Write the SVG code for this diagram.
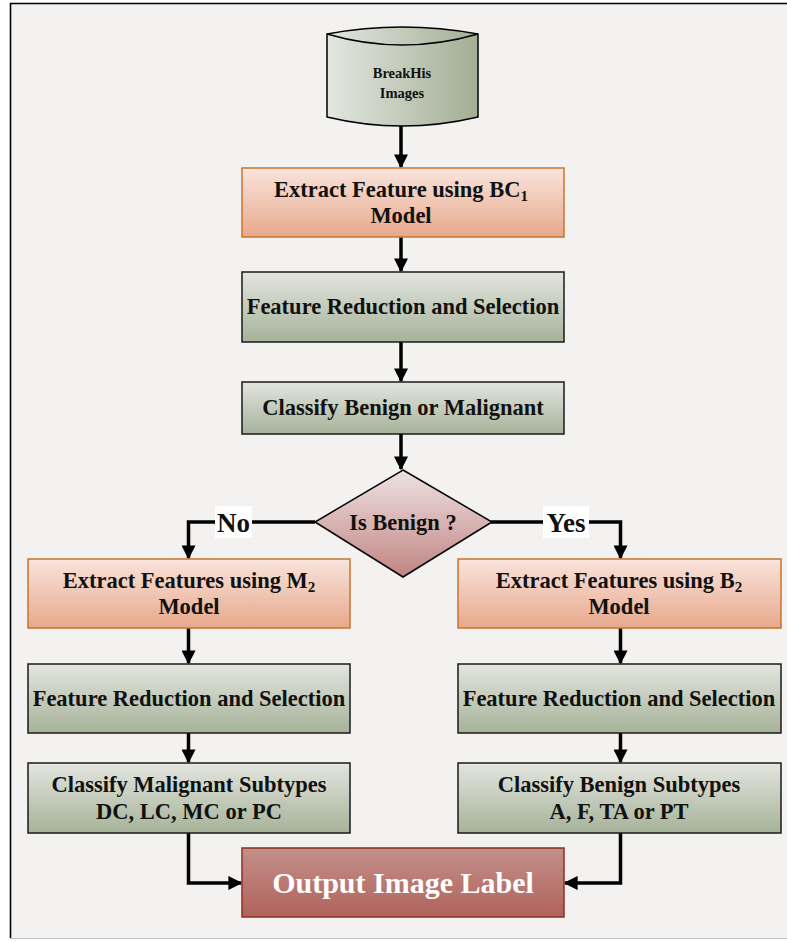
<svg xmlns="http://www.w3.org/2000/svg" width="787" height="941" viewBox="0 0 787 941">
  <defs>
    <linearGradient id="gOrange" x1="0" y1="0" x2="0" y2="1">
      <stop offset="0" stop-color="#f9e4dc"/>
      <stop offset="1" stop-color="#e7a88b"/>
    </linearGradient>
    <linearGradient id="gGreen" x1="0" y1="0" x2="0" y2="1">
      <stop offset="0" stop-color="#e3e5df"/>
      <stop offset="1" stop-color="#a6b299"/>
    </linearGradient>
    <linearGradient id="gCyl" x1="0" y1="0" x2="1" y2="0">
      <stop offset="0" stop-color="#e3e7e0"/>
      <stop offset="1" stop-color="#a3ae94"/>
    </linearGradient>
    <linearGradient id="gDiamond" x1="0" y1="0" x2="0" y2="1">
      <stop offset="0" stop-color="#eee2e2"/>
      <stop offset="1" stop-color="#c08482"/>
    </linearGradient>
    <linearGradient id="gOut" x1="0" y1="0" x2="0" y2="1">
      <stop offset="0" stop-color="#c38f8a"/>
      <stop offset="1" stop-color="#b0635b"/>
    </linearGradient>
    <marker id="arrow" viewBox="0 0 10 10" refX="9" refY="5" markerWidth="4" markerHeight="4" orient="auto" markerUnits="strokeWidth">
      <path d="M0,0 L10,5 L0,10 z" fill="#000"/>
    </marker>
  </defs>
  <style>
    .orange { fill: url(#gOrange); stroke: #c8742e; stroke-width: 1.5; }
    .green { fill: url(#gGreen); stroke: #1a1a1a; stroke-width: 1.5; }
    .txt { font-family: "Liberation Serif", "Times New Roman", serif; font-weight: bold; font-size: 22.5px; fill: #111; text-anchor: middle; }
    .sub { font-size: 15px; }
    .small { font-size: 14.5px; }
    .lbl { font-size: 27px; }
    .out { font-size: 30px; fill: #ffffff; }
    .conn { fill: none; stroke: #000; stroke-width: 3.5; }
  </style>

  <!-- page -->
  <rect x="0" y="0" width="787" height="941" fill="#ffffff"/>
  <rect x="10.5" y="3.5" width="790" height="934" fill="#f3f2f0"/>
  <path d="M10.5,938 L10.5,3.5 L787,3.5" fill="none" stroke="#000" stroke-width="1.6"/>
  <line x1="10" y1="938.5" x2="787" y2="938.5" stroke="#bdbdbd" stroke-width="1"/>

  <!-- connectors -->
  <g id="connectors">
    <line class="conn" x1="401" y1="125" x2="401" y2="167" marker-end="url(#arrow)"/>
    <line class="conn" x1="401" y1="237" x2="401" y2="271" marker-end="url(#arrow)"/>
    <line class="conn" x1="401" y1="342" x2="401" y2="381" marker-end="url(#arrow)"/>
    <line class="conn" x1="401" y1="434" x2="401" y2="469" marker-end="url(#arrow)"/>
    <path class="conn" d="M315,522 L188.5,522 L188.5,558" marker-end="url(#arrow)"/>
    <path class="conn" d="M491,522 L620.5,522 L620.5,558" marker-end="url(#arrow)"/>
    <line class="conn" x1="188.5" y1="628" x2="188.5" y2="663" marker-end="url(#arrow)"/>
    <line class="conn" x1="188.5" y1="733" x2="188.5" y2="762" marker-end="url(#arrow)"/>
    <line class="conn" x1="620.5" y1="628" x2="620.5" y2="663" marker-end="url(#arrow)"/>
    <line class="conn" x1="620.5" y1="733" x2="620.5" y2="762" marker-end="url(#arrow)"/>
    <path class="conn" d="M188.5,833 L188.5,883 L241,883" marker-end="url(#arrow)"/>
    <path class="conn" d="M620.5,833 L620.5,883 L565,883" marker-end="url(#arrow)"/>
    <!-- branch labels -->
    <rect x="215" y="506" width="37" height="32" fill="#ffffff"/>
    <text class="txt lbl" x="233.5" y="532">No</text>
    <rect x="543" y="506" width="46" height="32" fill="#ffffff"/>
    <text class="txt lbl" x="566" y="532">Yes</text>
  </g>

  <!-- BreakHis Images store -->
  <g id="breakhis">
    <path d="M327,34 Q402,20 478,34 L478,117 Q402,135 327,117 Z" fill="url(#gCyl)" stroke="#000" stroke-width="1.5"/>
    <path d="M327,34 Q402,56 478,34" fill="none" stroke="#000" stroke-width="1.5"/>
    <text class="txt small" x="402" y="78">BreakHis</text>
    <text class="txt small" x="402" y="98">Images</text>
  </g>

  <g id="extract-bc1">
    <rect class="orange" x="242" y="168" width="322" height="69"/>
    <text class="txt" x="401" y="197">Extract Feature using BC<tspan class="sub" dy="4">1</tspan></text>
    <text class="txt" x="401" y="223">Model</text>
  </g>

  <g id="reduce-main">
    <rect class="green" x="242" y="272" width="322" height="70"/>
    <text class="txt" x="403" y="314">Feature Reduction and Selection</text>
  </g>

  <g id="classify-main">
    <rect class="green" x="242" y="382" width="322" height="52"/>
    <text class="txt" x="403" y="415">Classify Benign or Malignant</text>
  </g>

  <g id="is-benign">
    <path d="M403,470 L492,522 L403,577 L315,522 Z" fill="url(#gDiamond)" stroke="#000" stroke-width="1.5"/>
    <text class="txt" x="403" y="530">Is Benign ?</text>
  </g>

  <g id="extract-m2">
    <rect class="orange" x="28" y="559" width="322" height="69"/>
    <text class="txt" x="189" y="588">Extract Features using M<tspan class="sub" dy="4">2</tspan></text>
    <text class="txt" x="189" y="614">Model</text>
  </g>

  <g id="reduce-m">
    <rect class="green" x="28" y="664" width="322" height="69"/>
    <text class="txt" x="189" y="706">Feature Reduction and Selection</text>
  </g>

  <g id="classify-m">
    <rect class="green" x="28" y="763" width="322" height="70"/>
    <text class="txt" x="189" y="792">Classify Malignant Subtypes</text>
    <text class="txt" x="189" y="819">DC, LC, MC or PC</text>
  </g>

  <g id="extract-b2">
    <rect class="orange" x="458" y="559" width="323" height="69"/>
    <text class="txt" x="619" y="588">Extract Features using B<tspan class="sub" dy="4">2</tspan></text>
    <text class="txt" x="619" y="614">Model</text>
  </g>

  <g id="reduce-b">
    <rect class="green" x="458" y="664" width="323" height="69"/>
    <text class="txt" x="619" y="706">Feature Reduction and Selection</text>
  </g>

  <g id="classify-b">
    <rect class="green" x="458" y="763" width="323" height="70"/>
    <text class="txt" x="619" y="792">Classify Benign Subtypes</text>
    <text class="txt" x="619" y="819">A, F, TA or PT</text>
  </g>

  <g id="output-label">
    <rect x="242" y="848" width="322" height="69" fill="url(#gOut)" stroke="#8e2e20" stroke-width="1.5"/>
    <text class="txt out" x="403" y="893">Output Image Label</text>
  </g>
</svg>
